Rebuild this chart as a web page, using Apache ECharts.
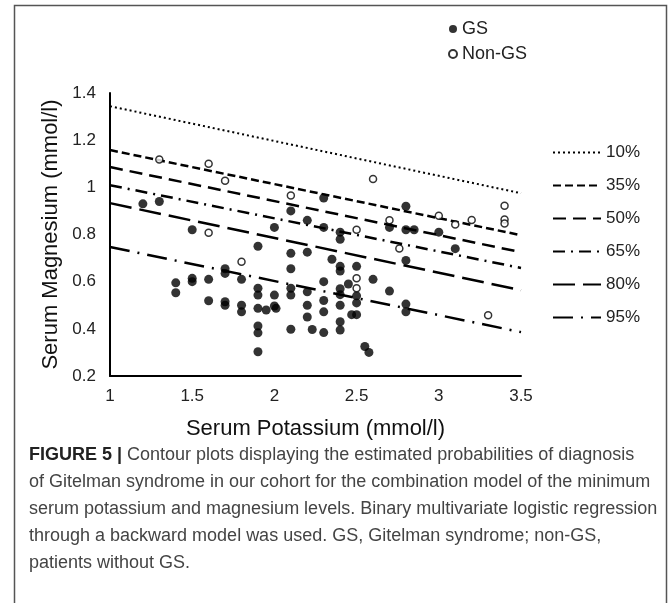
<!DOCTYPE html>
<html>
<head>
<meta charset="utf-8">
<script src="https://cdn.jsdelivr.net/npm/echarts@6/dist/echarts.min.js"></script>
<style>
  html, body { margin: 0; padding: 0; background: #fff; }
  #chart { width: 669px; height: 603px; }
</style>
</head>
<body>
<div id="chart"></div>
<script>
// axis ticks
const xTicks = [1, 1.5, 2, 2.5, 3, 3.5];
const yTicks = [0.2, 0.4, 0.6, 0.8, 1, 1.2, 1.4];

// GS patients: [potassium, magnesium]
const gsData = [
  [1.2, 0.93], [1.3, 0.94], [1.5, 0.82], [1.9, 0.75], [2.0, 0.83], [2.1, 0.90],
  [2.2, 0.86], [2.3, 0.955], [2.3, 0.83], [2.4, 0.81], [2.4, 0.78], [2.7, 0.83],
  [2.8, 0.92], [2.8, 0.82], [2.85, 0.82], [3.0, 0.81], [2.8, 0.69], [3.1, 0.74],
  [2.1, 0.72], [2.2, 0.725], [2.35, 0.695], [2.1, 0.655], [2.4, 0.665], [2.4, 0.645],
  [2.5, 0.665], [2.6, 0.61], [2.3, 0.60], [2.45, 0.59], [2.4, 0.57], [2.4, 0.545],
  [2.7, 0.56], [2.2, 0.557], [2.5, 0.54], [2.3, 0.52], [2.5, 0.51], [2.8, 0.505],
  [2.8, 0.472], [2.2, 0.50], [2.4, 0.50], [2.3, 0.472], [2.47, 0.46], [2.5, 0.46],
  [2.2, 0.45], [2.4, 0.43], [2.4, 0.395], [2.23, 0.397], [2.3, 0.384], [2.55, 0.325],
  [2.575, 0.30], [1.7, 0.655], [1.7, 0.635], [1.6, 0.61], [1.5, 0.614], [1.5, 0.60],
  [1.8, 0.61], [1.4, 0.595], [1.4, 0.553], [1.9, 0.572], [1.9, 0.543], [2.1, 0.572],
  [2.1, 0.543], [2.0, 0.543], [1.6, 0.519], [1.7, 0.515], [1.7, 0.50], [1.8, 0.50],
  [1.8, 0.472], [1.9, 0.487], [1.95, 0.48], [2.0, 0.497], [2.01, 0.487], [1.9, 0.412],
  [1.9, 0.383], [2.1, 0.398], [1.9, 0.303]
];

// non-GS patients
const nonGsData = [
  [1.3, 1.118], [1.6, 1.10], [1.7, 1.028], [2.1, 0.965], [2.6, 1.035], [1.6, 0.807],
  [2.5, 0.82], [2.7, 0.86], [3.0, 0.88], [3.1, 0.842], [3.2, 0.861], [3.4, 0.922],
  [3.4, 0.864], [3.4, 0.847], [1.8, 0.684], [2.76, 0.741], [2.5, 0.614], [2.5, 0.572],
  [3.3, 0.458]
];

// probability contour lines: magnesium at K = 1 and K = 3.5
const contourNames = ['10%', '35%', '50%', '65%', '80%', '95%'];
const contourStart = [1.344, 1.158, 1.086, 1.009, 0.933, 0.747];
const contourEnd = [0.975, 0.797, 0.725, 0.658, 0.564, 0.386];
const contourDash = [[2, 3], [8, 4], [13, 7], [12, 6, 2, 6], [22, 8], [20, 8, 2, 8]];

const chart = echarts.init(document.getElementById('chart'));

const lineSeries = contourNames.map((name, i) => ({
  name: name,
  type: 'line',
  symbol: 'none',
  silent: true,
  z: 1,
  color: '#000',
  lineStyle: { color: '#000', width: i === 0 ? 2 : 2.5, type: contourDash[i] },
  data: [[xTicks[0], contourStart[i]], [xTicks[xTicks.length - 1], contourEnd[i]]]
}));

const caption = '{b|FIGURE 5 |} Contour plots displaying the estimated probabilities of diagnosis\n' +
  'of Gitelman syndrome in our cohort for the combination model of the minimum\n' +
  'serum potassium and magnesium levels. Binary multivariate logistic regression\n' +
  'through a backward model was used. GS, Gitelman syndrome; non-GS,\n' +
  'patients without GS.';

const option = {
  backgroundColor: '#fff',
  animation: false,
  textStyle: { fontFamily: 'Liberation Sans, Arial, sans-serif' },
  grid: { left: 110, right: 148, top: 93, bottom: 227 },
  legend: [
    {
      data: ['GS', 'Non-GS'],
      orient: 'vertical',
      left: 443,
      top: 15,
      itemWidth: 8,
      itemHeight: 8,
      itemGap: 7,
      icon: 'circle',
      textStyle: { fontSize: 18, color: '#222' }
    },
    {
      data: contourNames,
      orient: 'vertical',
      left: 547,
      top: 139,
      itemWidth: 48,
      itemHeight: 14,
      itemGap: 16,
      itemStyle: { opacity: 0 },
      textStyle: { fontSize: 17, color: '#222' }
    }
  ],
  xAxis: {
    type: 'value',
    min: xTicks[0],
    max: xTicks[xTicks.length - 1],
    interval: 0.5,
    name: 'Serum Potassium (mmol/l)',
    nameLocation: 'middle',
    nameGap: 42,
    nameTextStyle: { fontSize: 22, color: '#111', verticalAlign: 'top' },
    axisLine: { lineStyle: { color: '#000', width: 2 } },
    axisTick: { show: false },
    splitLine: { show: false },
    axisLabel: { fontSize: 17, color: '#222', margin: 12 }
  },
  yAxis: {
    type: 'value',
    min: yTicks[0],
    max: yTicks[yTicks.length - 1],
    interval: 0.2,
    name: 'Serum Magnesium (mmol/l)',
    nameLocation: 'middle',
    nameGap: 48,
    nameTextStyle: { fontSize: 22, color: '#111' },
    axisLine: { show: true, lineStyle: { color: '#000', width: 2 } },
    axisTick: { show: false },
    splitLine: { show: false },
    axisLabel: { fontSize: 17, color: '#222', margin: 14 }
  },
  graphic: [
    {
      type: 'rect',
      silent: true,
      shape: { x: 14.5, y: 5.5, width: 652, height: 620 },
      style: { fill: 'none', stroke: '#555', lineWidth: 1.5 }
    },
    {
      type: 'text',
      left: 29,
      top: 442,
      silent: true,
      style: {
        text: caption,
        fill: '#444',
        fontSize: 18,
        fontFamily: 'Liberation Sans, Arial, sans-serif',
        lineHeight: 27,
        rich: {
          b: {
            fontWeight: 'bold',
            fill: '#222',
            fontSize: 18,
            fontFamily: 'Liberation Sans, Arial, sans-serif',
            lineHeight: 27
          }
        }
      }
    }
  ],
  series: lineSeries.concat([
    {
      name: 'GS',
      type: 'scatter',
      symbol: 'circle',
      symbolSize: 9,
      z: 3,
      itemStyle: { color: '#000' },
      data: gsData
    },
    {
      name: 'Non-GS',
      type: 'scatter',
      symbol: 'circle',
      symbolSize: 7,
      z: 4,
      itemStyle: { color: '#fff', borderColor: '#000', borderWidth: 1.5 },
      data: nonGsData
    }
  ])
};

chart.setOption(option);
window.addEventListener('resize', () => chart.resize());
</script>
</body>
</html>
